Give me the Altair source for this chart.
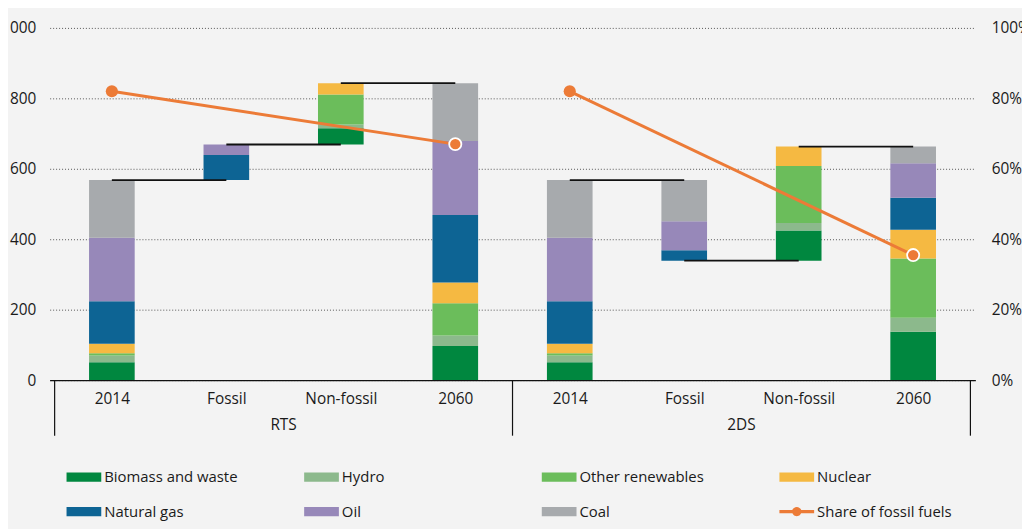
import json
import altair as alt
import pandas as pd

# ---------------- data ----------------
scenarios = ["RTS", "2DS"]
categories = ["2014", "Fossil", "Non-fossil", "2060"]
series = ["Biomass and waste", "Hydro", "Other renewables", "Nuclear",
          "Natural gas", "Oil", "Coal"]
fossil_series = ["Natural gas", "Oil", "Coal"]
nonfossil_series = ["Biomass and waste", "Hydro", "Other renewables", "Nuclear"]
share_name = "Share of fossil fuels"

values_2014 = [51, 19, 6, 27, 121, 180, 164]
fossil_change_rts = [71, 30, 0]
fossil_change_2ds = [-30, -82, -117]
nonfossil_change_rts = [46, 11, 85, 32]
nonfossil_change_2ds = [86, 21, 162, 55]
values_2060_rts = [97, 30, 91, 59, 192, 210, 164]
values_2060_2ds = [137, 40, 168, 82, 91, 98, 47]
share_rts = [0.82, 0.67]      # 2014, 2060
share_2ds = [0.82, 0.355]

left_ticks = [0, 200, 400, 600, 800, 1000]
right_ticks = [0, 0.2, 0.4, 0.6, 0.8, 1.0]

colors = ["#00873f", "#8cb98c", "#6bbd5b", "#f5b942", "#0d6494", "#9788b9", "#a7aaad"]
share_color = "#ec7b37"
FONT = "Open Sans"
TEXT = "#1a1a1a"
FS = 15.5

fossil_change = {"RTS": fossil_change_rts, "2DS": fossil_change_2ds}
nonfossil_change = {"RTS": nonfossil_change_rts, "2DS": nonfossil_change_2ds}
values_2060 = {"RTS": values_2060_rts, "2DS": values_2060_2ds}
share = {"RTS": share_rts, "2DS": share_2ds}

# ---------------- build tables ----------------
ncat = len(categories)
seg_rows, conn_rows, share_rows, label_rows = [], [], [], []


def stack(names, vals, start, pos, sc):
    y = start
    for n, v in zip(names, vals):
        if v != 0:
            seg_rows.append(dict(scenario=sc, pos=pos, series=n, y0=y, y1=y + v))
        y += v
    return y


for si, sc in enumerate(scenarios):
    base = si * ncat
    t2014 = stack(series, values_2014, 0, base + 0, sc)
    fc = fossil_change[sc]
    tot = sum(fc)
    if tot >= 0:
        stack(fossil_series, fc, t2014, base + 1, sc)
    else:
        stack(fossil_series, [abs(v) for v in fc], t2014 + tot, base + 1, sc)
    level1 = t2014 + tot
    level2 = stack(nonfossil_series, nonfossil_change[sc], level1, base + 2, sc)
    stack(series, values_2060[sc], 0, base + 3, sc)
    conn_rows += [
        dict(pos=base + 0, pos2=base + 1, level=t2014),
        dict(pos=base + 1, pos2=base + 2, level=level1),
        dict(pos=base + 2, pos2=base + 3, level=level2),
    ]
    share_rows += [
        dict(scenario=sc, pos=base + 0, category=categories[0], share=share[sc][0]),
        dict(scenario=sc, pos=base + 3, category=categories[3], share=share[sc][1]),
    ]
    label_rows.append(dict(scenario=sc, pos=base + (ncat - 1) / 2))

seg_df = pd.DataFrame(seg_rows)
conn_df = pd.DataFrame(conn_rows)
share_df = pd.DataFrame(share_rows)
label_df = pd.DataFrame(label_rows)
sep_df = pd.DataFrame({"pos": [i * ncat - 0.5 for i in range(len(scenarios) + 1)]})

# ---------------- encodings ----------------
W, H = 933, 355
x_axis = alt.Axis(values=list(range(ncat * len(scenarios))),
                  labelExpr=f"{json.dumps(categories)}[datum.value % {ncat}]",
                  title=None, ticks=False, grid=False, domain=True,
                  domainColor="#111111", domainWidth=1.2,
                  labelFont=FONT, labelFontSize=FS, labelColor=TEXT, labelPadding=12)
x_scale = alt.Scale(domain=[-0.5, ncat * len(scenarios) - 0.5], nice=False, zero=False)


def X(field="pos"):
    return alt.X(f"{field}:Q", scale=x_scale, axis=x_axis)


y_scale = alt.Scale(domain=[0, 1000], nice=False)
y_axis = alt.Axis(values=left_ticks, title=None, ticks=False, domain=False,
                  grid=True, gridDash=[1, 2], gridColor="#555555", gridWidth=1,
                  labelExpr="datum.value >= 1000 ? '1 000' : datum.label",
                  labelFont=FONT, labelFontSize=FS, labelColor=TEXT, labelPadding=14)
r_scale = alt.Scale(domain=[0, 1], nice=False)
r_axis = alt.Axis(values=right_ticks, orient="right", format=".0%", title=None,
                  ticks=False, domain=False, grid=False,
                  labelFont=FONT, labelFontSize=FS, labelColor=TEXT, labelPadding=16)

rect_path = "M-1,-0.27H1V0.27H-1Z"
share_path = ("M-1,-0.09H1V0.09H-1Z "
              "M-0.27,0A0.27,0.27 0 1,1 0.27,0A0.27,0.27 0 1,1 -0.27,0Z")
sym_expr = f"datum.value == '{share_name}' ? '{share_path}' : '{rect_path}'"

legend = alt.Legend(title=None, orient="none", legendX=17, legendY=435,
                    direction="horizontal", columns=4, gridAlign="all",
                    columnPadding=65.5, rowPadding=9,
                    padding=0, symbolSize=1225, symbolType={"expr": sym_expr},
                    symbolStrokeWidth=0, symbolOpacity=1, labelOffset=3, labelLimit=0,
                    labelFont=FONT, labelFontSize=15, labelColor=TEXT)

bars = alt.Chart(seg_df).mark_bar(size=46).encode(
    x=X(),
    y=alt.Y("y0:Q", scale=y_scale, axis=y_axis),
    y2="y1:Q",
    color=alt.Color("series:N",
                    scale=alt.Scale(domain=series + [share_name], range=colors + [share_color]),
                    legend=legend),
)

connectors = alt.Chart(conn_df).mark_rule(color="#111111", strokeWidth=1.8).encode(
    x=X(), x2="pos2:Q",
    y=alt.Y("level:Q", scale=y_scale, axis=y_axis),
)

separators = alt.Chart(sep_df).mark_rule(color="#111111", strokeWidth=1.2).encode(
    x=X(), y=alt.value(H), y2=alt.value(H + 56),
)

scen_labels = alt.Chart(label_df).mark_text(
    font=FONT, fontSize=FS, color=TEXT, baseline="middle", align="center"
).encode(x=X(), y=alt.value(H + 45), text="scenario:N")

left = alt.layer(bars, connectors, separators, scen_labels)

line = alt.Chart(share_df).mark_line(color=share_color, strokeWidth=3).encode(
    x=X(), y=alt.Y("share:Q", scale=r_scale, axis=r_axis), detail="scenario:N",
)
points = alt.Chart(share_df).mark_point(
    filled=True, fill=share_color, stroke="white", size=150, opacity=1
).encode(
    x=X(), y=alt.Y("share:Q", scale=r_scale, axis=r_axis),
    strokeWidth=alt.condition(alt.datum.category == categories[-1], alt.value(1.8), alt.value(0)),
)
right = alt.layer(line, points)

chart = alt.layer(left, right).resolve_scale(y="independent").properties(
    width=W, height=H,
    background="#f3f3f3",
    padding={"left": 42, "top": 18, "right": 47, "bottom": 148},
    autosize=alt.AutoSizeParams(type="none"),
).configure_view(strokeWidth=0)

chart.save("out.html", embed_options={"renderer": "svg", "actions": False})
